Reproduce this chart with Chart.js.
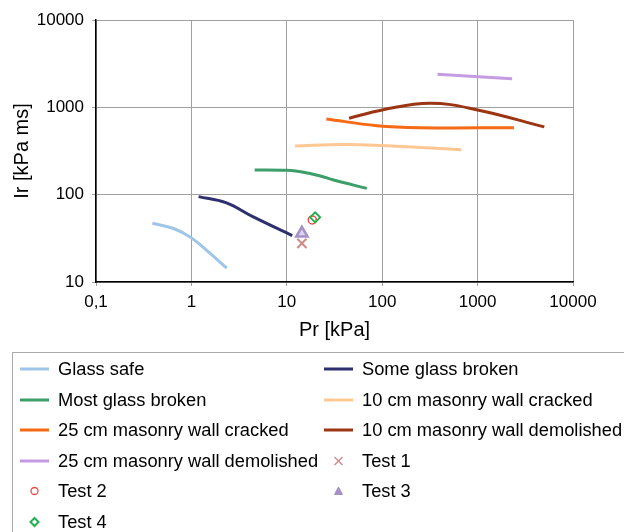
<!DOCTYPE html>
<html>
<head>
<meta charset="utf-8">
<script src="https://cdn.jsdelivr.net/npm/chart.js@4.4.0/dist/chart.umd.min.js"></script>
<style>
  body { margin: 0; overflow: hidden; background: #fff; font-family: "Liberation Sans", Arial, sans-serif; }
  #wrap { position: relative; width: 624px; height: 532px; overflow: hidden; }
  #chart { position: absolute; left: 0; top: 0; }
  #legendBox { position: absolute; left: 12px; top: 352px; width: 700px; height: 300px; border: 1px solid #aaa; }
  .item { position: absolute; height: 22px; line-height: 22px; font-size: 18.3px; color: #000; white-space: nowrap; }
  .item svg { position: absolute; left: 0; top: 0; }
  .item span { position: absolute; left: 38px; top: 0; }
</style>
</head>
<body>
<div id="wrap">
  <canvas id="chart" width="624" height="532"></canvas>
  <div id="legendBox"></div>
</div>
<script>
// Axis ticks
const xTickValues = [0.1, 1, 10, 100, 1000, 10000];
const xTickLabels = ['0,1', '1', '10', '100', '1000', '10000'];
const yTickValues = [10, 100, 1000, 10000];
const yTickLabels = ['10', '100', '1000', '10000'];

// Series data (Pr in kPa, Ir in kPa ms)
const glassSafePr = [0.39, 0.65, 1.0, 1.55, 2.35];
const glassSafeIr = [47, 41, 32, 21.5, 14.4];

const someGlassPr = [1.19, 2.3, 4.4, 11.4];
const someGlassIr = [95, 81, 56, 34];

const mostGlassPr = [4.6, 10, 14, 22, 31, 69];
const mostGlassIr = [192, 190, 183, 165, 147, 118];

const wall10CrackedPr = [12.2, 40, 100, 680];
const wall10CrackedIr = [360, 376, 365, 327];

const wall25CrackedPr = [26, 88, 250, 2400];
const wall25CrackedIr = [735, 617, 585, 585];

const wall10DemolPr = [45, 100, 317, 1000, 5000];
const wall10DemolIr = [750, 934, 1114, 934, 597];

const wall25DemolPr = [380, 2300];
const wall25DemolIr = [2390, 2130];

const test1Pr = [14.4];
const test1Ir = [27.7];
const test2Pr = [18.5];
const test2Ir = [51.3];
const test3Pr = [14.4];
const test3Ir = [36.1];
const test4Pr = [19.8];
const test4Ir = [55];

// Function to zip two arrays into points
function toPoints(xs, ys) {
  return xs.map((x, i) => ({ x: x, y: ys[i] }));
}

function lineSet(label, xs, ys, color) {
  return {
    label: label,
    data: toPoints(xs, ys),
    showLine: true,
    borderColor: color,
    backgroundColor: color,
    borderWidth: 3,
    pointRadius: 0,
    tension: 0.4,
    kind: 'line'
  };
}

function markerSet(label, xs, ys, color, style, radius, fill, width, order) {
  return {
    label: label,
    data: toPoints(xs, ys),
    showLine: false,
    borderColor: color,
    backgroundColor: fill,
    borderWidth: width,
    pointStyle: style,
    pointRadius: radius,
    order: order,
    kind: style
  };
}

const datasets = [
  lineSet('Glass safe', glassSafePr, glassSafeIr, '#9fc5e8'),
  lineSet('Some glass broken', someGlassPr, someGlassIr, '#2d2f6e'),
  lineSet('Most glass broken', mostGlassPr, mostGlassIr, '#3c9e68'),
  lineSet('10 cm masonry wall cracked', wall10CrackedPr, wall10CrackedIr, '#ffc793'),
  lineSet('25 cm masonry wall cracked', wall25CrackedPr, wall25CrackedIr, '#f56a14'),
  lineSet('10 cm masonry wall demolished', wall10DemolPr, wall10DemolIr, '#9b3513'),
  lineSet('25 cm masonry wall demolished', wall25DemolPr, wall25DemolIr, '#c59be3'),
  markerSet('Test 1', test1Pr, test1Ir, '#d08a8a', 'crossRot', 6.5, '#d08a8a', 2, 0),
  markerSet('Test 2', test2Pr, test2Ir, '#ef4a4a', 'circle', 4, 'rgba(0,0,0,0)', 1.5, 0),
  markerSet('Test 3', test3Pr, test3Ir, '#a690c8', 'triangle', 6.5, '#ddd3ec', 2.5, 0),
  markerSet('Test 4', test4Pr, test4Ir, '#22b14c', 'rectRot', 5, 'rgba(0,0,0,0)', 2, -1)
];

Chart.defaults.font.family = "'Liberation Sans', Arial, sans-serif";
Chart.defaults.color = '#000';

const chart = new Chart(document.getElementById('chart').getContext('2d'), {
  type: 'scatter',
  data: { datasets: datasets },
  options: {
    responsive: false,
    animation: false,
    layout: { padding: { left: 0, right: 51, top: 20, bottom: 180 } },
    plugins: { legend: { display: false }, tooltip: { enabled: false } },
    scales: {
      x: {
        type: 'logarithmic',
        min: 0.1,
        max: 10000,
        afterBuildTicks: axis => { axis.ticks = xTickValues.map(v => ({ value: v })); },
        afterFit: axis => { axis.height = 70; },
        ticks: {
          font: { size: 17 },
          padding: 6,
          maxRotation: 0,
          autoSkip: false,
          callback: (value, index) => xTickLabels[index]
        },
        grid: { color: '#a0a0a0', lineWidth: 1, tickLength: 4 },
        border: { color: '#000', width: 1.5 },
        title: { display: true, text: 'Pr [kPa]', font: { size: 20 }, padding: { top: 0, bottom: 10 } }
      },
      y: {
        type: 'logarithmic',
        min: 10,
        max: 10000,
        afterBuildTicks: axis => { axis.ticks = yTickValues.map(v => ({ value: v })); },
        afterFit: axis => { axis.width = 96; },
        ticks: {
          font: { size: 17 },
          padding: 8,
          autoSkip: false,
          callback: (value, index) => yTickLabels[index]
        },
        grid: { color: '#a0a0a0', lineWidth: 1, tickLength: 4 },
        border: { color: '#000', width: 1.5 },
        title: { display: true, text: 'Ir [kPa ms]', font: { size: 20 }, padding: { top: 10, bottom: 0 } }
      }
    }
  }
});

// Build the legend in two columns below the chart
const colX = [20, 324];
const rowY = 369;
const rowGap = 30.6;
const wrap = document.getElementById('wrap');

function markerSvg(ds) {
  const c = ds.borderColor;
  if (ds.kind === 'line') {
    return '<line x1="0" y1="11" x2="29" y2="11" stroke="' + c + '" stroke-width="3"/>';
  }
  if (ds.kind === 'crossRot') {
    return '<line x1="10.5" y1="7" x2="18.5" y2="15" stroke="' + c + '" stroke-width="1.5"/>' +
           '<line x1="18.5" y1="7" x2="10.5" y2="15" stroke="' + c + '" stroke-width="1.5"/>';
  }
  if (ds.kind === 'circle') {
    return '<circle cx="14.5" cy="11" r="3.5" fill="none" stroke="' + c + '" stroke-width="1.3"/>';
  }
  if (ds.kind === 'triangle') {
    return '<polygon points="14.5,7 18.5,14.5 10.5,14.5" fill="' + c + '" stroke="' + c + '" stroke-width="1"/>';
  }
  return '<polygon points="14.5,7 18.5,11 14.5,15 10.5,11" fill="none" stroke="' + c + '" stroke-width="2"/>';
}

datasets.forEach((ds, i) => {
  const col = i % 2;
  const row = Math.floor(i / 2);
  const item = document.createElement('div');
  item.className = 'item';
  item.style.left = colX[col] + 'px';
  item.style.top = (rowY + row * rowGap - 11) + 'px';
  item.innerHTML = '<svg width="30" height="22">' + markerSvg(ds) + '</svg><span>' + ds.label + '</span>';
  wrap.appendChild(item);
});
</script>
</body>
</html>
